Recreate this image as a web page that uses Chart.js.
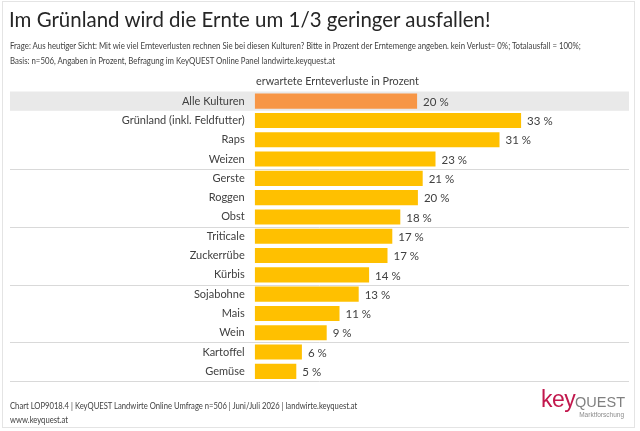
<!DOCTYPE html>
<html>
<head>
<meta charset="utf-8">
<script src="https://cdn.jsdelivr.net/npm/chart.js@4"></script>
<style>
  html, body { margin: 0; padding: 0; background: #fff; }
  #wrap { position: relative; width: 640px; height: 431px; overflow: hidden; font-family: Lato, sans-serif; color: #404040; }
  #frame { position: absolute; left: 2px; top: 1px; width: 633px; height: 427px; border: 1px solid #e4e4e4; box-sizing: border-box; }
  canvas { position: absolute; left: 0; top: 0; }
  .txt { position: absolute; white-space: nowrap; transform-origin: left top; }
  #title { left: 9px; top: 5px; font-size: 22px; color: #262626; transform: scaleX(0.93); }
  #q1 { left: 10px; top: 41px; font-size: 8.5px; transform: scaleX(0.92); }
  #q2 { left: 10px; top: 56px; font-size: 8.5px; transform: scaleX(0.92); }
  #caption { left: 256px; top: 74px; font-size: 10.8px; }
  #f1 { left: 10px; top: 401px; font-size: 8.5px; transform: scaleX(0.9); }
  #f2 { left: 10px; top: 415px; font-size: 8.5px; transform: scaleX(0.9); }
  #logo { right: 15px; top: 386px; font-family: "Liberation Sans", sans-serif; font-size: 23px; letter-spacing: -0.6px; }
  #logo .k { color: #c2184d; }
  #logo .q { color: #808080; font-size: 14.5px; letter-spacing: 0; }
  #sub { right: 16px; top: 411px; font-size: 6.5px; color: #8c8c8c; font-family: "Liberation Sans", sans-serif; }
</style>
</head>
<body>
<div id="wrap">
  <div id="frame"></div>
  <canvas id="chart" width="640" height="431"></canvas>
  <div class="txt" id="title">Im Grünland wird die Ernte um 1/3 geringer ausfallen!</div>
  <div class="txt" id="q1">Frage: Aus heutiger Sicht: Mit wie viel Ernteverlusten rechnen Sie bei diesen Kulturen? Bitte in Prozent der Erntemenge angeben. kein Verlust= 0%; Totalausfall = 100%;</div>
  <div class="txt" id="q2">Basis: n=506, Angaben in Prozent, Befragung im KeyQUEST Online Panel landwirte.keyquest.at</div>
  <div class="txt" id="caption">erwartete Ernteverluste in Prozent</div>
  <div class="txt" id="f1">Chart LOP9018.4 | KeyQUEST Landwirte Online Umfrage n=506 | Juni/Juli 2026 | landwirte.keyquest.at</div>
  <div class="txt" id="f2">www.keyquest.at</div>
  <div class="txt" id="logo"><span class="k">key</span><span class="q">QUEST</span></div>
  <div class="txt" id="sub">Marktforschung</div>
</div>
<script>
// Daten
const kulturen = ['Alle Kulturen', 'Grünland (inkl. Feldfutter)', 'Raps', 'Weizen', 'Gerste', 'Roggen', 'Obst',
    'Triticale', 'Zuckerrübe', 'Kürbis', 'Sojabohne', 'Mais', 'Wein', 'Kartoffel', 'Gemüse'];
const verluste = [20.3, 33.3, 30.6, 22.6, 21.0, 20.4, 18.2, 17.2, 16.6, 14.3, 13.0, 10.6, 9.0, 5.9, 5.2];
const trennNach = [3, 6, 9, 12, 14]; // Trennlinien unter diesen Zeilen

const barColors = kulturen.map((k, i) => i === 0 ? '#f79646' : '#ffc000');

// Hintergrund-Band + Trennlinien (vor den Achsen zeichnen)
const rowsPlugin = {
    id: 'rows',
    beforeDraw(chart) {
        const ctx = chart.ctx;
        const y = chart.scales.y;
        const half = (y.getPixelForValue(1) - y.getPixelForValue(0)) / 2;
        ctx.save();
        ctx.fillStyle = '#e9e9e9';
        const y0 = y.getPixelForValue(0);
        ctx.fillRect(10, y0 - half, 619, half * 2);
        ctx.strokeStyle = '#d9d9d9';
        ctx.lineWidth = 1;
        trennNach.forEach(i => {
            const yy = Math.round(y.getPixelForValue(i) + half) + 0.5;
            ctx.beginPath();
            ctx.moveTo(10, yy);
            ctx.lineTo(629, yy);
            ctx.stroke();
        });
        ctx.restore();
    }
};

// Werte-Beschriftung
const labelPlugin = {
    id: 'valueLabels',
    afterDatasetsDraw(chart) {
        const ctx = chart.ctx;
        const meta = chart.getDatasetMeta(0);
        ctx.save();
        ctx.font = '11.5px Lato';
        ctx.fillStyle = '#404040';
        ctx.textBaseline = 'middle';
        meta.data.forEach((bar, i) => {
            ctx.fillText(Math.round(verluste[i]) + ' %', bar.x + 6, bar.y + 1);
        });
        ctx.restore();
    }
};

new Chart(document.getElementById('chart'), {
    type: 'bar',
    data: {
        labels: kulturen,
        datasets: [{
            data: verluste,
            backgroundColor: barColors,
            borderWidth: 0,
            barPercentage: 0.78,
            categoryPercentage: 1.0
        }]
    },
    options: {
        indexAxis: 'y',
        responsive: false,
        animation: false,
        devicePixelRatio: 1,
        layout: { padding: { top: 91.5, bottom: 50, left: 0, right: 1.3 } },
        plugins: {
            legend: { display: false },
            tooltip: { enabled: false }
        },
        scales: {
            x: { display: false, min: 0, max: 48 },
            y: {
                grid: { display: false, drawTicks: false },
                border: { display: false },
                ticks: { color: '#404040', font: { family: 'Lato', size: 11 }, padding: 10 },
                afterFit(scale) { scale.width = 254.7; }
            }
        }
    },
    plugins: [rowsPlugin, labelPlugin]
});
</script>
</body>
</html>
